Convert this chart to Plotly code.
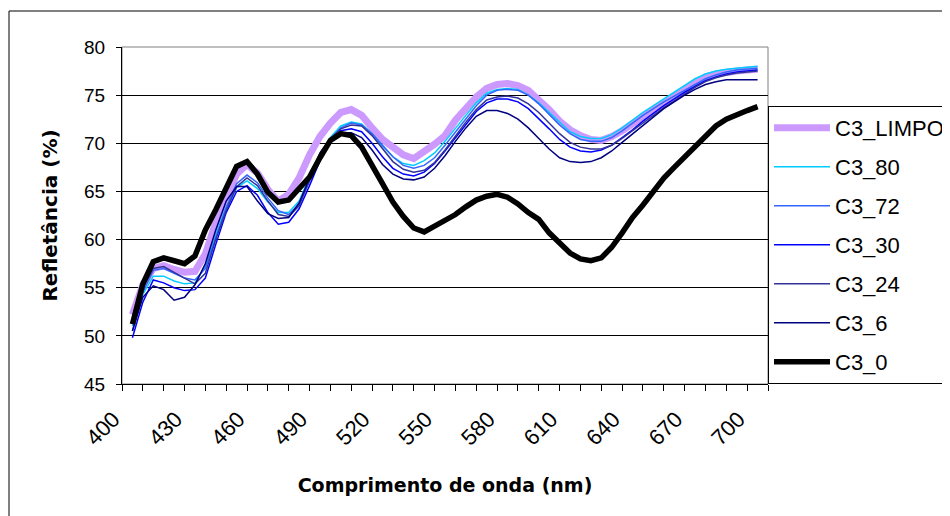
import plotly.graph_objects as go

wavelength = list(range(400, 705, 5))

c3_limpo = [52.2, 55.3, 57.0, 57.3, 56.9, 56.6, 56.7, 58.5, 61.8, 64.5,
            66.8, 67.8, 66.9, 65.2, 64.0, 64.7, 66.4, 68.8, 70.7, 72.1,
            73.2, 73.5, 72.9, 71.6, 70.4, 69.6, 68.8, 68.4, 69.1, 69.9,
            70.8, 72.4, 73.6, 74.8, 75.7, 76.1, 76.2, 76.0, 75.5, 74.6,
            73.5, 72.3, 71.4, 70.8, 70.4, 70.3, 70.7, 71.3, 72.1, 72.8,
            73.5, 74.2, 74.9, 75.6, 76.3, 76.9, 77.2, 77.4, 77.5, 77.6, 77.7]
c3_80 = [51.0, 54.3, 56.2, 56.2, 55.7, 55.4, 55.5, 57.2, 60.5, 63.4,
         65.4, 66.1, 65.3, 63.9, 62.8, 62.8, 64.0, 66.5, 68.8, 70.6,
         71.8, 72.2, 72.0, 71.0, 69.7, 68.6, 67.9, 67.7, 68.2, 69.0,
         70.2, 71.6, 72.9, 74.2, 75.2, 75.6, 75.7, 75.6, 75.0, 74.2,
         73.2, 72.1, 71.2, 70.7, 70.5, 70.5, 70.9, 71.6, 72.4, 73.2,
         73.9, 74.6, 75.3, 76.0, 76.7, 77.2, 77.5, 77.7, 77.8, 77.9, 78.0]
c3_72 = [50.5, 54.5, 56.8, 57.0, 56.5, 56.0, 55.8, 57.0, 60.2, 63.3,
         65.8, 66.7, 65.9, 64.3, 63.0, 62.6, 63.7, 66.0, 68.4, 70.4,
         71.6, 72.1, 71.9, 71.0, 69.8, 68.6, 67.7, 67.4, 67.7, 68.5,
         69.8, 71.2, 72.6, 73.9, 75.0, 75.5, 75.6, 75.5, 75.0, 74.1,
         73.0, 71.9, 71.0, 70.4, 70.2, 70.2, 70.6, 71.3, 72.1, 72.9,
         73.6, 74.3, 74.9, 75.5, 76.1, 76.7, 77.1, 77.4, 77.6, 77.7, 77.8]
c3_30 = [49.8, 53.5, 55.8, 55.5, 55.0, 54.7, 54.8, 56.0, 59.5, 62.8,
         65.0, 65.6, 64.6, 62.8, 61.6, 61.8, 63.2, 65.6, 68.2, 70.2,
         71.3, 71.5, 71.2, 70.0, 68.6, 67.4, 66.8, 66.6, 67.0, 67.9,
         69.2, 70.6, 72.0, 73.3, 74.2, 74.6, 74.6, 74.3, 73.6, 72.6,
         71.5, 70.4, 69.6, 69.2, 69.1, 69.3, 69.8, 70.6, 71.4, 72.3,
         73.1, 73.9, 74.6, 75.3, 75.9, 76.5, 76.9, 77.2, 77.4, 77.5, 77.6]
c3_24 = [51.5, 55.0, 57.0, 57.2, 56.6, 56.0, 55.4, 56.5, 60.0, 63.0,
         65.5, 66.4, 65.6, 64.0, 62.6, 62.4, 63.5, 66.2, 68.6, 70.5,
         71.5, 71.9, 71.8, 70.8, 69.4, 68.1, 67.3, 67.0, 67.2, 68.0,
         69.3, 70.8, 72.2, 73.5, 74.5, 74.8, 74.9, 74.7, 74.1, 73.2,
         72.1, 71.0, 70.1, 69.6, 69.4, 69.4, 69.8, 70.5, 71.3, 72.1,
         72.9, 73.7, 74.4, 75.1, 75.8, 76.4, 76.8, 77.1, 77.3, 77.4, 77.5]
c3_6 = [50.5, 54.0, 55.2, 54.8, 53.7, 54.0, 55.3, 57.5, 61.0, 64.0,
        65.5, 65.5, 64.0, 62.7, 62.2, 62.3, 63.8, 66.5, 69.0, 70.5,
        71.1, 71.1, 70.6, 69.3, 67.8, 66.8, 66.3, 66.2, 66.5, 67.4,
        68.7, 70.2, 71.6, 72.8, 73.4, 73.4, 73.1, 72.5, 71.6, 70.5,
        69.4, 68.5, 68.1, 68.0, 68.1, 68.5, 69.2, 70.1, 71.0, 71.9,
        72.8, 73.6, 74.3, 75.0, 75.6, 76.1, 76.4, 76.6, 76.6, 76.6, 76.6]
c3_0 = [51.2, 55.4, 57.7, 58.1, 57.8, 57.5, 58.3, 61.0, 63.1, 65.4,
        67.6, 68.1, 66.8, 64.9, 63.9, 64.1, 65.2, 66.5, 68.5, 70.3,
        71.0, 70.8, 69.6, 67.8, 65.8, 63.9, 62.4, 61.2, 60.8, 61.4,
        62.0, 62.6, 63.4, 64.1, 64.5, 64.7, 64.4, 63.7, 62.8, 62.1,
        60.7, 59.6, 58.6, 58.0, 57.8, 58.1, 59.2, 60.7, 62.3, 63.6,
        65.0, 66.4, 67.5, 68.6, 69.8, 70.9, 71.8, 72.5, 73.0, 73.4, 73.8]

series_names = ["C3_LIMPO", "C3_80", "C3_72", "C3_30", "C3_24", "C3_6", "C3_0"]
series_values = [c3_limpo, c3_80, c3_72, c3_30, c3_24, c3_6, c3_0]
series_colors = ["#CC99FF", "#00CCFF", "#3366FF", "#0000FF", "#333399", "#000080", "#000000"]
series_widths = [7, 1.5, 1.5, 1.5, 1.5, 1.5, 5.5]

x_tick_values = list(range(400, 701, 30))
x_tick_labels = [str(v) for v in x_tick_values]
x_category_bounds = list(range(395, 706, 10))
y_tick_values = list(range(45, 81, 5))

FONT = "Liberation Sans, Arial, sans-serif"

fig = go.Figure()
for name, vals, col, w in zip(series_names, series_values, series_colors, series_widths):
    fig.add_trace(go.Scatter(x=wavelength, y=vals, mode="lines", name=name,
                             legendgroup=name,
                             line=dict(color=col, width=w)))
# invisible helper trace so the label axis is rendered
fig.add_trace(go.Scatter(x=[x_category_bounds[0], x_category_bounds[-1]], y=[None, None],
                         xaxis="x2", mode="lines", showlegend=False, hoverinfo="skip"))

# page body has an 8px margin, so the figure is laid out 8px smaller/shifted
OFF = 8
W, H = 950 - OFF, 516 - OFF
L, R, T, B = 122 - OFF, 768 - OFF, 47 - OFF, 384 - OFF

def px_x(p):
    return (p - OFF - L) / (R - L)

def px_y(p):
    return (B - (p - OFF)) / (B - T)

fig.update_layout(
    width=W, height=H,
    margin=dict(l=L, r=W - R, t=T, b=H - B, autoexpand=False),
    paper_bgcolor="white", plot_bgcolor="white",
    font=dict(family=FONT, color="black", size=17),
    showlegend=True,
    legend=dict(x=1.0, xanchor="left", y=px_y(106), yanchor="top",
                bordercolor="black", borderwidth=1, bgcolor="white",
                font=dict(size=22, family=FONT), tracegroupgap=7.4,
                itemwidth=56),
    xaxis=dict(range=[395, 705], tickmode="array", tickvals=x_category_bounds,
               ticks="outside", ticklen=6, tickwidth=1, tickcolor="black",
               showticklabels=False,
               showgrid=False, zeroline=False, showline=True,
               linecolor="black", linewidth=1),
    xaxis2=dict(range=[395, 705], overlaying="x", anchor="y", side="bottom",
                tickmode="array", tickvals=x_tick_values, ticktext=x_tick_labels,
                tickangle=-45, ticks="", showgrid=False, zeroline=False, showline=False,
                tickfont=dict(size=22, family=FONT),
                ticklabelstandoff=17, ticklabelshift=-19,
                title=dict(text="<b>Comprimento de onda (nm)</b>",
                           font=dict(size=19, family="DejaVu Sans"), standoff=29)),
    yaxis=dict(range=[45, 80], tickmode="array", tickvals=y_tick_values,
               ticks="outside", ticklen=5, tickcolor="black",
               showgrid=True, gridcolor="black", gridwidth=1,
               zeroline=False, showline=True, linecolor="black", linewidth=1,
               tickfont=dict(size=19, family=FONT), ticklabelstandoff=7,
               title=dict(text="<b>Refletância (%)</b>",
                          font=dict(size=20, family="DejaVu Sans"), standoff=21)),
)

# plot-area frame (grey) and outer chart border
fig.add_shape(type="rect", xref="paper", yref="paper", x0=0, x1=1, y0=0, y1=1,
              line=dict(color="#808080", width=1), layer="below")
fig.add_shape(type="rect", xref="paper", yref="paper",
              x0=px_x(9), x1=px_x(1000), y0=px_y(600), y1=px_y(11),
              line=dict(color="black", width=1), layer="below")

fig.write_html("out.html")
